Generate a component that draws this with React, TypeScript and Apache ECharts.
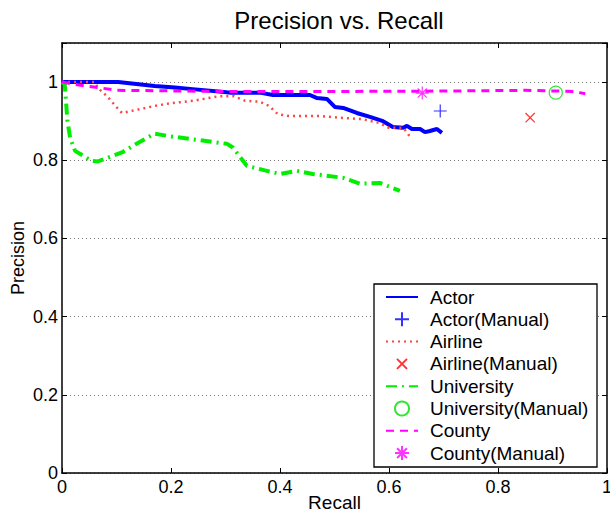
import React, { useEffect, useRef } from "react";
import * as echarts from "echarts";

// Actor (automatic)
const actorRecall = [0, 0.103, 0.17, 0.207, 0.24, 0.302, 0.31, 0.363, 0.387, 0.455, 0.468, 0.486, 0.501, 0.516, 0.541, 0.565, 0.589, 0.607, 0.626, 0.633, 0.642, 0.657, 0.666, 0.675, 0.688, 0.697];
const actorPrecision = [1, 1, 0.99, 0.986, 0.982, 0.974, 0.973, 0.973, 0.967, 0.967, 0.959, 0.957, 0.936, 0.934, 0.921, 0.911, 0.9, 0.885, 0.883, 0.888, 0.88, 0.88, 0.872, 0.875, 0.88, 0.87];

// Airline (automatic)
const airlineRecall = [0, 0.06, 0.066, 0.084, 0.1, 0.11, 0.14, 0.17, 0.2, 0.24, 0.289, 0.315, 0.336, 0.363, 0.38, 0.396, 0.418, 0.473, 0.519, 0.552, 0.583, 0.6, 0.626, 0.635, 0.64];
const airlinePrecision = [1, 1, 0.985, 0.962, 0.936, 0.921, 0.93, 0.939, 0.946, 0.952, 0.964, 0.964, 0.952, 0.95, 0.939, 0.918, 0.913, 0.913, 0.908, 0.905, 0.895, 0.883, 0.883, 0.868, 0.855];

// University (automatic)
const universityRecall = [0, 0.005, 0.01, 0.015, 0.024, 0.055, 0.066, 0.11, 0.14, 0.17, 0.195, 0.303, 0.314, 0.339, 0.376, 0.4, 0.431, 0.46, 0.516, 0.547, 0.583, 0.62];
const universityPrecision = [1, 0.995, 0.9, 0.857, 0.824, 0.798, 0.797, 0.82, 0.845, 0.868, 0.862, 0.842, 0.832, 0.786, 0.773, 0.765, 0.773, 0.765, 0.755, 0.74, 0.742, 0.722];

// County (automatic)
const countyRecall = [0, 0.042, 0.066, 0.1, 0.3, 0.5, 0.7, 0.85, 0.91, 0.94, 0.95, 0.96];
const countyPrecision = [1, 0.99, 0.986, 0.979, 0.976, 0.976, 0.977, 0.979, 0.977, 0.976, 0.973, 0.97];

// Manual results: [recall, precision]
const actorManual = [0.694, 0.926];
const airlineManual = [0.859, 0.909];
const universityManual = [0.906, 0.973];
const countyManual = [0.661, 0.972];

const seriesNames = ["Actor", "Actor(Manual)", "Airline", "Airline(Manual)", "University", "University(Manual)", "County", "County(Manual)"];
const lineNames = ["Actor", "Airline", "University", "County"];

const zip = (xs: number[], ys: number[]) => xs.map((x, i) => [x, ys[i]]);

const FONT = "'Liberation Sans', Arial, Helvetica, sans-serif";

export default function App() {
  const ref = useRef<HTMLDivElement>(null);
  useEffect(() => {
    if (!ref.current) return;
    const chart = echarts.init(ref.current, null, { renderer: "svg" });

    const lineSeries = (name: string, data: number[][], color: string, width: number, type: any) => ({
      name,
      type: "line",
      data,
      symbol: "none",
      showSymbol: false,
      color,
      lineStyle: { color, width, type },
      silent: true,
      clip: true,
    });
    const scatter = (name: string, pt: number[], symbol: string, color: string, size: number) => ({
      name,
      type: "scatter",
      data: [pt],
      symbol,
      symbolSize: size,
      symbolKeepAspect: true,
      color,
      itemStyle: { color: "transparent", borderColor: color, borderWidth: 1.2 },
      silent: true,
    });

    const axisLineStyle = { color: "#000", width: 1.5 };

    chart.setOption({
      animation: false,
      backgroundColor: "#fff",
      textStyle: { fontFamily: FONT },
      title: {
        text: "Precision vs. Recall",
        left: 334,
        top: 3,
        textAlign: "center",
        textStyle: { fontSize: 24, fontWeight: "normal", color: "#000", fontFamily: FONT },
      },
      grid: { left: 62, right: 3, top: 43, bottom: 41, outerBoundsMode: "none", containLabel: false },
      graphic: [
        {
          type: "rect",
          z: 3,
          silent: true,
          shape: { x: 374, y: 284, width: 223, height: 183 },
          style: { fill: "#fff", stroke: "#000", lineWidth: 1.3 },
        },
      ],
      legend: {
        data: seriesNames.map((n) =>
          lineNames.includes(n)
            ? { name: n, itemStyle: { color: "transparent", borderColor: "transparent", borderWidth: 0, opacity: 0 } }
            : { name: n }
        ),
        orient: "vertical",
        left: 374,
        top: 284,
        z: 5,
        itemWidth: 32,
        itemHeight: 14,
        itemGap: 0.3,
        padding: [2, 0, 3, 11],
        selectedMode: false,
        textStyle: { fontSize: 19, lineHeight: 22, color: "#000", fontFamily: FONT, padding: [0, 0, 0, 7] },
      },
      xAxis: [
        {
          type: "value",
          min: 0,
          max: 1,
          interval: 0.2,
          position: "bottom",
          axisLine: { show: true, onZero: false, lineStyle: axisLineStyle },
          axisTick: { show: true, inside: true, length: 5, lineStyle: { color: "#000" } },
          axisLabel: { fontSize: 18, color: "#000", margin: 5, fontFamily: FONT },
          splitLine: { show: false },
          name: "Recall",
          nameLocation: "middle",
          nameGap: 20,
          nameMoveOverlap: false,
          nameTextStyle: { fontSize: 19, color: "#000", fontFamily: FONT },
        },
        {
          type: "value",
          min: 0,
          max: 1,
          interval: 0.2,
          position: "top",
          axisLine: { show: true, onZero: false, lineStyle: axisLineStyle },
          axisTick: { show: true, inside: true, length: 5, lineStyle: { color: "#000" } },
          axisLabel: { show: false },
          splitLine: { show: false },
        },
      ],
      yAxis: [
        {
          type: "value",
          min: 0,
          max: 1.1,
          interval: 0.2,
          position: "left",
          axisLine: { show: true, onZero: false, lineStyle: axisLineStyle },
          axisTick: { show: true, inside: true, length: 5, lineStyle: { color: "#000" } },
          axisLabel: {
            fontSize: 18,
            color: "#000",
            margin: 4,
            fontFamily: FONT,
            formatter: (v: number) => (v > 1.01 ? "" : String(Math.round(v * 10) / 10)),
          },
          splitLine: { show: true, lineStyle: { type: [1, 3], color: "#777", width: 1 } },
          name: "Precision",
          nameLocation: "middle",
          nameGap: 35,
          nameMoveOverlap: false,
          nameRotate: 90,
          nameTextStyle: { fontSize: 18, color: "#000", fontFamily: FONT },
        },
        {
          type: "value",
          min: 0,
          max: 1.1,
          interval: 0.2,
          position: "right",
          axisLine: { show: true, onZero: false, lineStyle: axisLineStyle },
          axisTick: { show: true, inside: true, length: 5, lineStyle: { color: "#000" } },
          axisLabel: { show: false },
          splitLine: { show: false },
        },
      ],
      series: [
        lineSeries("Actor", zip(actorRecall, actorPrecision), "#0000ff", 4, "solid"),
        scatter("Actor(Manual)", actorManual, "path://M0,5L10,5M5,0L5,10", "#0000ff", 13),
        lineSeries("Airline", zip(airlineRecall, airlinePrecision), "#ff4444", 2.5, [2, 4]),
        scatter("Airline(Manual)", airlineManual, "path://M-2,-2M0,0L10,10M10,0L0,10M12,12", "#ff0000", 13),
        lineSeries("University", zip(universityRecall, universityPrecision), "#00ee00", 4, [11, 5, 2, 5]),
        scatter("University(Manual)", universityManual, "circle", "#00dd00", 13),
        lineSeries("County", zip(countyRecall, countyPrecision), "#ff00ff", 3, [8, 6]),
        scatter("County(Manual)", countyManual, "path://M5,0L5,10M0,5L10,5M1.5,1.5L8.5,8.5M8.5,1.5L1.5,8.5", "#ff00ff", 13),
      ],
    });
    return () => chart.dispose();
  }, []);
  return <div ref={ref} style={{ position: "absolute", left: 0, top: 0, width: 610, height: 514 }} />;
}
